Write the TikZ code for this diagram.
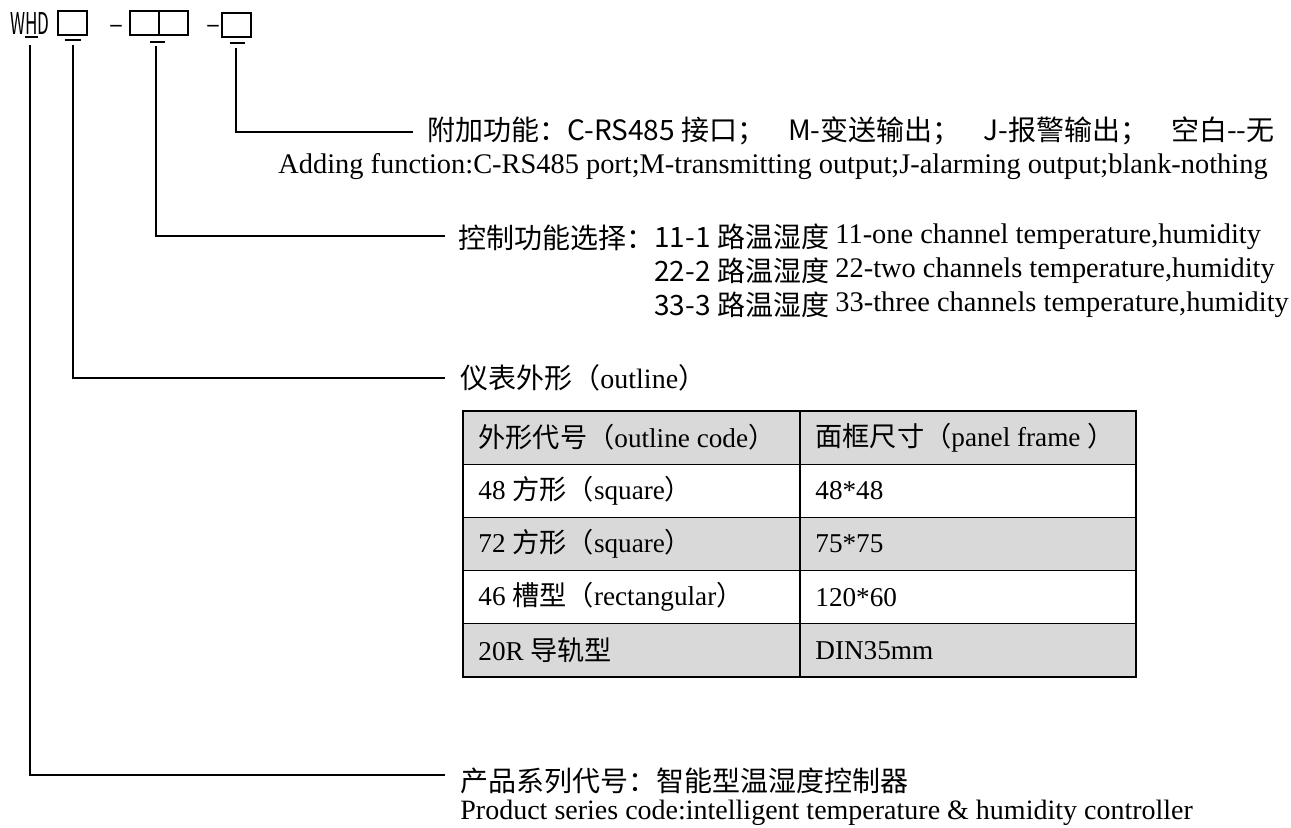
\documentclass[tikz,border=0pt]{standalone}
\usepackage{fontspec}
\setmainfont{Liberation Serif}
\newfontfamily\cjk{Noto Sans CJK SC}
\usepackage{tikz}
\usetikzlibrary{positioning}
\definecolor{cellgray}{RGB}{217,217,217}
\newcommand{\zh}[1]{{\cjk #1}}

\begin{document}
\begin{tikzpicture}[x=0.5pt,y=-0.5pt,
    slot/.style={draw, line width=1pt, minimum width=14.5pt, minimum height=12pt, inner sep=0pt},
    lead/.style={line width=0.8pt},
    notch/.style={line width=1.3pt},
    cn/.style={font=\cjk\fontsize{14}{16}\selectfont, inner sep=0pt, anchor=west},
    en/.style={font=\fontsize{14.2}{16}\selectfont, inner sep=0pt, anchor=west},
    tb/.style={font=\fontsize{13.6}{16}\selectfont, inner sep=0pt, anchor=west}]
  \useasboundingbox (0,0) rectangle (1291,828);
  % model code
  \node[inner sep=0pt, font=\cjk\fontsize{15}{16}\selectfont] (whd) at (30,24) {\scalebox{0.57}[1]{WHD}};
  \node[slot] (b1) at (72.5,23) {};
  \node[inner sep=0pt, font=\cjk\fontsize{13}{16}\selectfont] (d1) at (116,29) {–};
  \node[slot] (b2a) at (144.5,23) {};
  \node[slot] (b2b) at (173.5,23) {};
  \node[inner sep=0pt, font=\cjk\fontsize{13}{16}\selectfont] (d2) at (213,29) {–};
  \node[slot] (b3) at (236.5,25) {};
  \draw[notch] (25,37) -- (38,37);
  \draw[notch] ([xshift=-4pt,yshift=-2pt]b1.south) -- ([xshift=4pt,yshift=-2pt]b1.south);
  \draw[notch] ([xshift=-4pt,yshift=-3pt]b2b.south west) -- ([xshift=3.5pt,yshift=-3pt]b2b.south west);
  \draw[notch] ([xshift=-3.5pt,yshift=-2.5pt]b3.south) -- ([xshift=4pt,yshift=-2.5pt]b3.south);
  \coordinate (l0) at (30,45);
  \coordinate (l1) at (73,45);
  \coordinate (l2) at (156,46);
  \coordinate (l3) at (236,48);
  % additional function
  \node[cn] (add) at (427,131) {附加功能：C-RS485 接口；\hspace{11.5pt}M-变送输出；\hspace{11.5pt}J-报警输出；\hspace{11.5pt}空白-{}-无};
  \node[en] (adden) at (278,167) {Adding function:C-RS485 port;M-transmitting output;J-alarming output;blank-nothing};
  % control function
  \node[cn] (ctrl) at (458,238) {控制功能选择：};
  \foreach \n/\w/\y in {1/one channel/237, 2/two channels/271, 3/three channels/305} {
    \node[cn] (c\n) at (654,\y) {\n\n-\n\ 路温湿度};
    \node[en] (c\n en) at (835,\y) {\n\n-\w\ temperature,humidity};
  }
  % outline
  \node[cn] (outl) at (460,378) {仪表外形（{\rmfamily outline}）};
  \foreach \r/\c in {0/cellgray,1/white,2/cellgray,3/white,4/cellgray}
    \fill[\c] (463,{411+53.2*\r}) rectangle (1136,{411+53.2*(\r+1)});
  \foreach \r in {1,...,4}
    \draw[line width=0.6pt] (463,{411+53.2*\r}) -- (1136,{411+53.2*\r});
  \draw[line width=0.7pt] (463,411) rectangle (1136,677);
  \draw[line width=0.7pt] (800,411) -- (800,677);
  \foreach \r/\a/\b in {0/{\zh{外形代号（}outline code\zh{）}}/{\zh{面框尺寸（}panel frame \zh{）}},
                        1/{48 \zh{方形（}square\zh{）}}/{48*48},
                        2/{72 \zh{方形（}square\zh{）}}/{75*75},
                        3/{46 \zh{槽型（}rectangular\zh{）}}/{120*60},
                        4/{20R \zh{导轨型}}/{DIN35mm}} {
    \node[tb] (o\r) at (478,{437.6+53.2*\r}) {\a};
    \node[tb] (p\r) at (815,{437.6+53.2*\r}) {\b};
  }
  % product series
  \node[cn] (prod) at (460,781) {产品系列代号：智能型温湿度控制器};
  \node[en, font=\fontsize{14}{16}\selectfont] (proden) at (460,813) {Product series code:intelligent temperature \& humidity controller};
  \coordinate (e0) at (445,775);
  % leads
  \draw[lead] (l3) |- ([xshift=-7pt,yshift=-0.5pt]add.west);
  \draw[lead] (l2) |- ([xshift=-6.5pt,yshift=1pt]ctrl.west);
  \draw[lead] (l1) |- ([xshift=-7.5pt]outl.west);
  \draw[lead] (l0) |- (e0);
\end{tikzpicture}
\end{document}
